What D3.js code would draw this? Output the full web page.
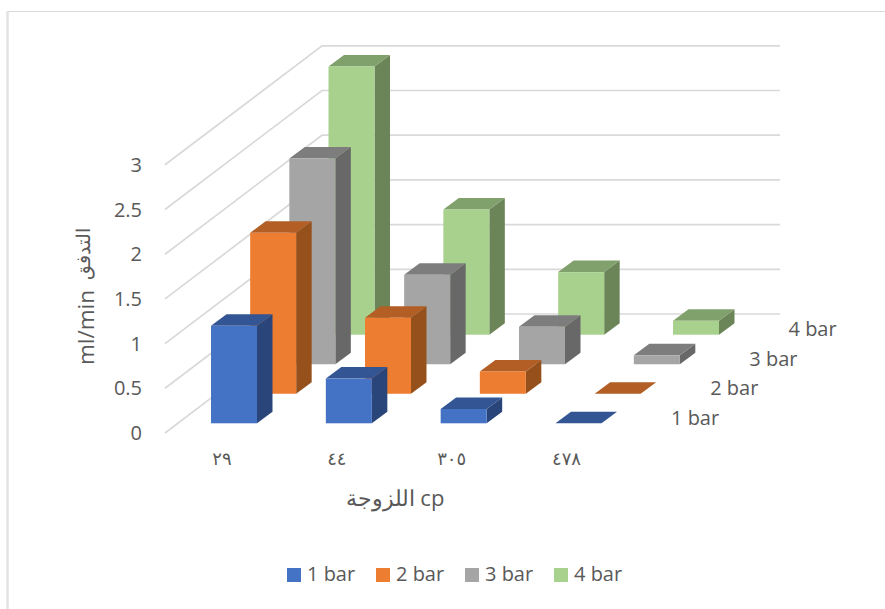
<!DOCTYPE html>
<html>
<head>
<meta charset="utf-8">
<script src="https://cdn.jsdelivr.net/npm/d3@7/dist/d3.min.js"></script>
<style>
  html, body { margin: 0; padding: 0; background: #fff; }
  text { font-family: "Open Sans", "Noto Sans", sans-serif; fill: #595959; }
</style>
</head>
<body>
<svg id="chart" width="885" height="609" style="display:block"></svg>
<script>
// Flow rate against viscosity at four pressures, as a clustered 3-D column chart.
const categories = ["٢٩", "٤٤", "٣٠٥", "٤٧٨"];
const seriesNames = ["1 bar", "2 bar", "3 bar", "4 bar"];
const bar1 = [1.09, 0.5, 0.16, 0];
const bar2 = [1.8, 0.85, 0.25, 0];
const bar3 = [2.3, 1.0, 0.42, 0.1];
const bar4 = [3.0, 1.4, 0.7, 0.156];
const seriesValues = [bar1, bar2, bar3, bar4];
const yTicks = [0, 0.5, 1, 1.5, 2, 2.5, 3];
const frontColors = ["#4472c4", "#ed7d31", "#a5a5a5", "#a9d18e"];
const topColors = ["#335593", "#b25e25", "#7d7d7d", "#80a06c"];
const sideColors = ["#294579", "#95501c", "#686868", "#6b8558"];

const svg = d3.select("#chart");

// Front-plane scales; the depth scales shift each series back along the floor.
const x = d3.scalePoint().domain(categories).range([211, 555.5]);
const height = d3.scaleLinear().domain([0, 3]).range([0, 268.2]);
const depthX = d3.scalePoint().domain(seriesNames).range([0, 117.5]);
const depthY = d3.scalePoint().domain(seriesNames).range([423.3, 334.7]);
const barWidth = 46, sideDx = 15.5, sideDy = -11.5;

// Chart frame: only the top and left edges are visible
svg.append("line").attr("x1", 7).attr("x2", 885).attr("y1", 11.5).attr("y2", 11.5)
  .attr("stroke", "#d9d9d9").attr("stroke-width", 1);
svg.append("line").attr("x1", 7.5).attr("x2", 7.5).attr("y1", 11).attr("y2", 609)
  .attr("stroke", "#e2e2e2").attr("stroke-width", 2.5);

// Wall gridlines: diagonal on the side wall, horizontal on the back wall
const wallFrontX = 165, wallBackX = 322, wallRightX = 780;
const wallFrontY = 433, wallBackY = 314;
const grid = svg.append("g").attr("fill", "none").attr("stroke", "#d9d9d9").attr("stroke-width", 1.7);
yTicks.forEach(t => {
  const h = height(t);
  grid.append("path").attr("d", d3.line()([
    [wallFrontX, wallFrontY - h], [wallBackX, wallBackY - h], [wallRightX, wallBackY - h]
  ]));
});

// Value axis labels
svg.append("g").selectAll("text").data(yTicks).join("text")
  .attr("x", 142).attr("y", t => wallFrontY - height(t) + 7)
  .attr("text-anchor", "end").attr("font-size", 20)
  .text(t => t);

// Columns, back series first so nearer ones overlap them
const line = d3.line();
for (let s = seriesNames.length - 1; s >= 0; s--) {
  const name = seriesNames[s];
  const g = svg.append("g").attr("class", "series");
  seriesValues[s].forEach((v, c) => {
    const x0 = x(categories[c]) + depthX(name), x1 = x0 + barWidth;
    const y0 = depthY(name), y1 = y0 - height(v);
    g.append("path").attr("fill", sideColors[s]).attr("d", line([
      [x1, y0], [x1 + sideDx, y0 + sideDy], [x1 + sideDx, y1 + sideDy], [x1, y1]
    ]) + "Z");
    g.append("path").attr("fill", topColors[s]).attr("d", line([
      [x0, y1], [x0 + sideDx, y1 + sideDy], [x1 + sideDx, y1 + sideDy], [x1, y1]
    ]) + "Z");
    g.append("rect").attr("fill", frontColors[s])
      .attr("x", x0).attr("y", y1).attr("width", barWidth).attr("height", y0 - y1);
  });
}

// Category labels under the front of the floor
svg.append("g").selectAll("text").data(categories).join("text")
  .attr("x", d => x(d) + 11).attr("y", 465)
  .attr("text-anchor", "middle").attr("direction", "ltr").attr("unicode-bidi", "bidi-override")
  .attr("font-size", 18).attr("letter-spacing", 3.5)
  .style("font-family", '"Noto Sans", "DejaVu Sans", sans-serif')
  .text(d => d);

// Series labels along the depth axis
svg.append("g").selectAll("text").data(seriesNames).join("text")
  .attr("x", d => 671 + depthX(d)).attr("y", d => 425 + (depthY(d) - 423.3))
  .attr("font-size", 20)
  .text(d => d);

// Axis titles
svg.append("text").attr("x", 395).attr("y", 506).attr("text-anchor", "middle")
  .attr("font-size", 22)
  .text("اللزوجة cp");
svg.append("text").attr("transform", "translate(94,365) rotate(-90)")
  .attr("font-size", 22.5).text("ml/min");
svg.append("text").attr("transform", "translate(90,254) rotate(-90)")
  .attr("text-anchor", "middle").attr("font-size", 19).text("التدفق");

// Legend
const legendX = d3.scalePoint().domain(seriesNames).range([287, 554]);
const legend = svg.append("g").selectAll("g").data(seriesNames).join("g")
  .attr("transform", d => `translate(${legendX(d)},0)`);
legend.append("rect").attr("x", 0).attr("y", 568).attr("width", 14).attr("height", 14)
  .attr("fill", (d, i) => frontColors[i]);
legend.append("text").attr("x", 20).attr("y", 581).attr("font-size", 20).text(d => d);
</script>
</body>
</html>
